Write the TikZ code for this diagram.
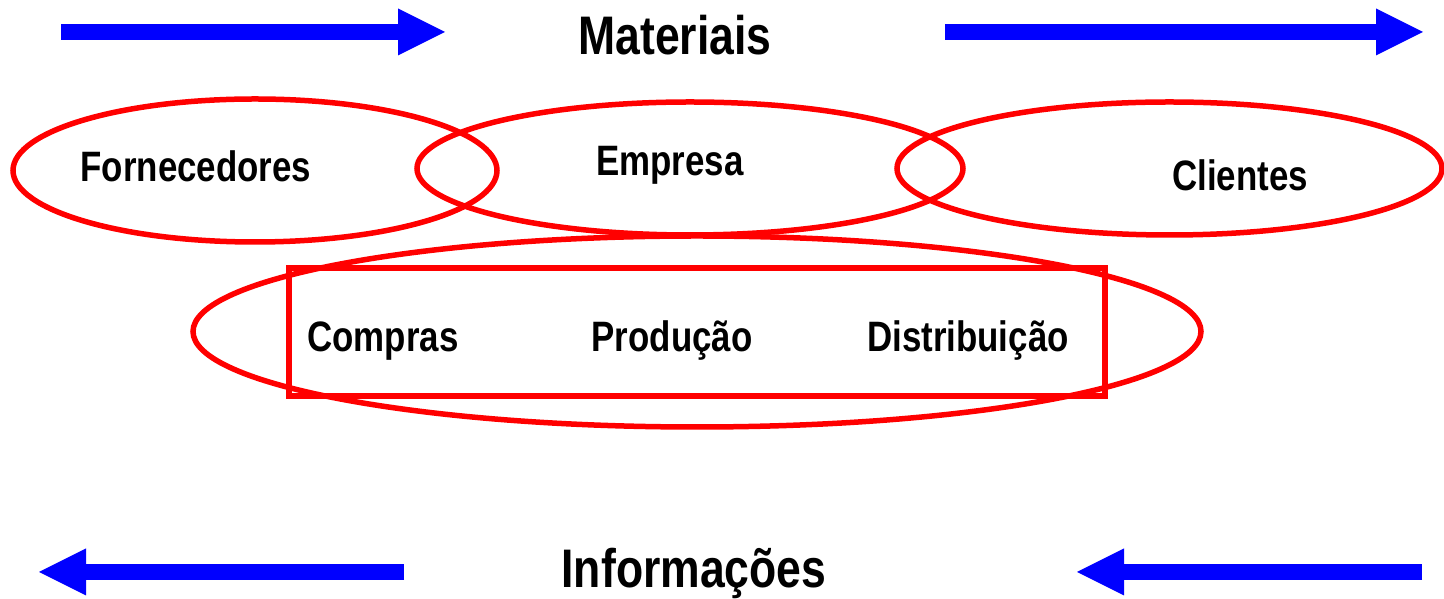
\documentclass[tikz,border=0pt]{standalone}
\usepackage{fontspec}
\setmainfont{Liberation Sans}[FakeStretch=0.82]
\usetikzlibrary{arrows.meta}
\tikzset{
  flow/.style={blue, line width=0.32cm, -{Triangle[length=0.94cm, width=0.94cm, line width=0pt]}},
  ring/.style={red, line width=0.11cm},
  heading/.style={font=\bfseries\fontsize{30.9}{36}\selectfont, anchor=base, inner sep=0},
  part/.style={font=\bfseries\fontsize{24.2}{29}\selectfont, anchor=base, inner sep=0}
}
\begin{document}
\begin{tikzpicture}
     \useasboundingbox (0, 0) rectangle (28.88, 11.98);
         % materiais
         \draw[flow] (1.22, 11.34) to (8.90, 11.34);
         \draw[flow] (18.90, 11.34) to (28.46, 11.34);
             \node[heading] (materiais) at (13.50, 10.88) {Materiais};
         % cadeia
         \draw[ring] (5.10, 8.57) ellipse (4.84 and 1.43);
         \draw[ring] (13.80, 8.61) ellipse (5.46 and 1.33);
         \draw[ring] (23.39, 8.61) ellipse (5.45 and 1.33);
             \node[part] (fornecedores) at (3.92, 8.34) {Fornecedores};
             \node[part] (empresa) at (13.40, 8.46) {Empresa};
             \node[part] (clientes) at (24.80, 8.16) {Clientes};
         % empresa
         \draw[ring] (13.94, 5.35) ellipse (10.08 and 1.91);
         \draw[ring] (5.78, 4.06) rectangle (22.10, 6.62);
             \node[part] (compras) at (7.66, 4.94) {Compras};
             \node[part] (producao) at (13.44, 4.94) {Produção};
             \node[part] (distribuicao) at (19.36, 4.94) {Distribuição};
         % informacoes
         \draw[flow] (8.08, 0.54) to (0.78, 0.54);
         \draw[flow] (28.44, 0.54) to (21.54, 0.54);
             \node[heading] (informacoes) at (13.88, 0.23) {Informações};
\end{tikzpicture}
\end{document}
